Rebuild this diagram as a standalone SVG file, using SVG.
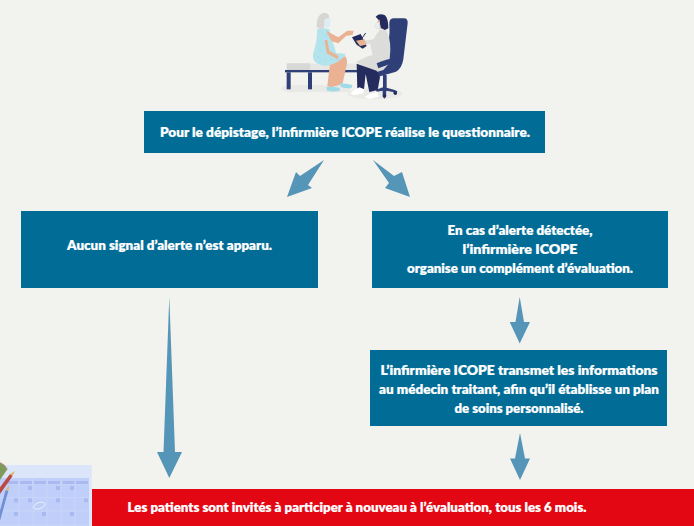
<svg xmlns="http://www.w3.org/2000/svg" width="694" height="526" viewBox="0 0 694 526">
<style>
.box{fill:#016d97}
.arrow{fill:#5595b8}
text{font-family:"Lato","Liberation Sans",sans-serif;font-weight:800;fill:#fff;stroke:#fff;stroke-width:.2px;font-size:12.5px;text-anchor:middle}
.navy{fill:#2f3f78}
.skin{fill:#eab193}
.sky{fill:#b3e3ec}
.foot{fill:#9fdbe6}
.dark{fill:#232c5c}
.cell{fill:#a9baf0}
.grid{stroke:#cfdafb;stroke-width:2;fill:none}
</style>
<rect width="694" height="526" fill="#f2f2ee"/>
<g id="illustration-consultation" transform="translate(270 0) scale(.3333)">
<path d="M33 265Q40 255 60 255H240V277H60Q40 277 33 265Z" fill="#e9e9e6"/>
<ellipse cx="315" cy="281" rx="82" ry="17" fill="#e9e9e6"/>
<rect x="50" y="190" width="72" height="20" rx="3" fill="#d8d8d6"/>
<rect x="122" y="191" width="138" height="20" fill="#e6e6e3"/>
<rect x="45" y="210" width="217" height="7" class="navy"/>
<rect x="50" y="217" width="12" height="51" class="navy"/>
<rect x="114" y="217" width="12" height="51" class="navy"/>
<path d="M358 70Q358 55 372 55H402Q414 55 413 70L400 178Q396 205 378 215L320 232L300 190L345 175Q362 120 358 70Z" class="navy"/>
<path d="M325 185L385 172L388 180L350 200L345 225H335L330 200Z" class="navy"/>
<path d="M339 225h11v38l24 7 8 4-2 6h-8l-3-4-20-4-1 18-4 6-6-6 0-18-18 3-2-6 21-7Z" class="navy"/>
<circle cx="344" cy="287" r="5" class="dark"/><circle cx="376" cy="280" r="5" class="dark"/>
<path d="M180 190Q205 178 222 168Q232 170 231 190L218 250L206 256L182 262L172 258Z" class="skin"/>
<path d="M168 262Q185 258 208 263L210 272Q190 277 172 272Z" class="foot"/>
<path d="M210 250Q228 250 247 255L245 264Q225 266 212 260Z" class="foot"/>
<path d="M142 88Q155 82 178 88L188 125L199 160Q215 158 228 163Q218 178 198 188Q165 205 140 190Q125 178 130 160Q142 120 142 88Z" class="sky"/>
<g fill="#7fcdd8"><circle cx="155" cy="110" r="1.500"/><circle cx="170" cy="105" r="1.500"/><circle cx="160" cy="130" r="1.500"/><circle cx="150" cy="150" r="1.500"/><circle cx="145" cy="170" r="1.500"/><circle cx="165" cy="180" r="1.500"/><circle cx="185" cy="178" r="1.500"/><circle cx="150" cy="185" r="1.500"/><circle cx="205" cy="178" r="1.500"/></g>
<path d="M168 92L205 112L232 92L251 92L248 104L228 108L205 130L185 124Z" class="skin"/>
<path d="M142 88Q165 90 170 118L142 122Z" class="sky"/>
<path d="M164 120L172 120L178 152L206 168L202 178L170 160Z" class="skin"/>
<path d="M140 80Q138 45 160 38Q178 38 178 52L165 60L162 84Q150 90 140 80Z" fill="#d8d5d2"/>
<path d="M163 58L180 52L181 78L170 84L163 78Z" fill="#ddeef2"/>
<path d="M330 88L348 90Q362 115 361 150L358 190L340 210L320 216L268 192L258 186L290 170L308 165L300 130L286 136L284 122L310 118Z" fill="#dcdcda"/>
<path d="M260 191L320 212L330 232L323 270L298 276L287 222L282 268L262 266Z" class="dark"/>
<path d="M240 281L250 272L268 262L283 268L280 280L255 286Z" fill="#fff"/>
<path d="M282 292L298 282L322 275L326 290L300 297Z" fill="#fff"/>
<path d="M320 190Q345 178 385 172L388 180L350 196L325 205Z" class="navy"/>
<path d="M246 112L272 102L290 138L278 146L260 134Z" class="dark"/>
<path d="M275 116L287 99" stroke="#232c5c" stroke-width="3" fill="none"/>
<path d="M258 122L284 118L288 134L270 138Z" class="skin"/>
<path d="M317 50Q328 38 345 46Q355 55 355 85L345 90L332 84L328 62Z" class="dark"/>
<path d="M328 58L332 85L320 88L314 75Z" class="skin"/>
<path d="M312 70L328 66L330 84L320 88Z" fill="#e3eff3"/>
</g>
<g id="illustration-calendar" transform="translate(0 450) scale(.3333)">
<rect x="0" y="45" width="275" height="183" fill="#dce6fb"/>
<rect x="0" y="84" width="267" height="144" fill="#c0cffa"/>
<path class="grid" d="M57 84V228M99 84V228M141 84V228M183 84V228M225 84V228M0 102H267M0 143H267M0 183H267M0 225H267"/>
<g class="cell">
<rect x="15" y="93" width="40" height="9"/><rect x="60" y="93" width="36" height="9"/><rect x="102" y="93" width="36" height="9"/><rect x="144" y="93" width="36" height="9"/><rect x="188" y="93" width="36" height="9"/><rect x="228" y="93" width="36" height="9"/>
<rect x="84" y="108" width="12" height="12"/><rect x="168" y="108" width="12" height="12"/><rect x="210" y="108" width="12" height="12"/>
<rect x="42" y="145" width="12" height="12"/><rect x="84" y="145" width="12" height="12"/><rect x="168" y="145" width="12" height="12"/><rect x="252" y="145" width="12" height="12"/>
<rect x="42" y="186" width="12" height="12"/><rect x="126" y="186" width="12" height="12"/><rect x="210" y="186" width="12" height="12"/>
</g>
<path d="M0 38Q14 42 22 58L0 90Z" fill="#7f9a5a"/>
<path d="M0 38Q14 42 22 58" fill="none" stroke="#b98f7f" stroke-width="3"/>
<path d="M0 112L30 72L38 78L0 132Z" fill="#bb4a45"/>
<path d="M30 72L45 62L38 78Z" fill="#d9b96a"/>
<path d="M0 182L17 120L25 123L0 212Z" fill="#6f8fd6"/>
<path d="M17 120L28 105L25 123Z" fill="#d9b96a"/>
<ellipse cx="118" cy="167" rx="18" ry="9" transform="rotate(-20 118 167)" fill="none" stroke="#eef2fd" stroke-width="2.500"/>
</g>
<g id="connectors">
<path class="arrow" d="M324 160L300 176 296 172 287 197 312 188 308 185Z"/>
<path class="arrow" d="M373 160L394 176 402 172 410 197 385 188 389 183Z"/>
<path class="arrow" d="M169.300 297L175 452H182L169.300 478 157 452H163.500Z"/>
<path class="arrow" d="M519.700 297L524 322H530L519.700 343.500 509.700 322H515.500Z"/>
<path class="arrow" d="M520 433L525 458.500H530L520 480 510 458.500H515Z"/>
</g>
<g id="node-depistage"><rect class="box" x="144" y="111" width="401" height="42"/>
<text x="345" y="137" textLength="370" lengthAdjust="spacingAndGlyphs">Pour le dépistage, l’infirmière ICOPE réalise le questionnaire.</text></g>
<g id="node-aucun-signal"><rect class="box" x="21" y="211" width="297" height="77"/>
<text x="169.500" y="250" textLength="205" lengthAdjust="spacingAndGlyphs">Aucun signal d’alerte n’est apparu.</text></g>
<g id="node-alerte"><rect class="box" x="372" y="211" width="296" height="77"/>
<text x="520" y="235" textLength="145" lengthAdjust="spacingAndGlyphs">En cas d’alerte détectée,</text>
<text x="520" y="254" textLength="115" lengthAdjust="spacingAndGlyphs">l’infirmière ICOPE</text>
<text x="520" y="273" textLength="226" lengthAdjust="spacingAndGlyphs">organise un complément d’évaluation.</text></g>
<g id="node-transmet"><rect class="box" x="370" y="350" width="297" height="76"/>
<text x="519" y="375" textLength="277" lengthAdjust="spacingAndGlyphs">L’infirmière ICOPE transmet les informations</text>
<text x="519" y="394" textLength="280" lengthAdjust="spacingAndGlyphs">au médecin traitant, afin qu’il établisse un plan</text>
<text x="519" y="413" textLength="129" lengthAdjust="spacingAndGlyphs">de soins personnalisé.</text></g>
<g id="node-patients"><rect x="92" y="489" width="602" height="37" fill="#e30613"/>
<text x="357" y="512" textLength="459" lengthAdjust="spacingAndGlyphs">Les patients sont invités à participer à nouveau à l’évaluation, tous les 6 mois.</text></g>
</svg>
